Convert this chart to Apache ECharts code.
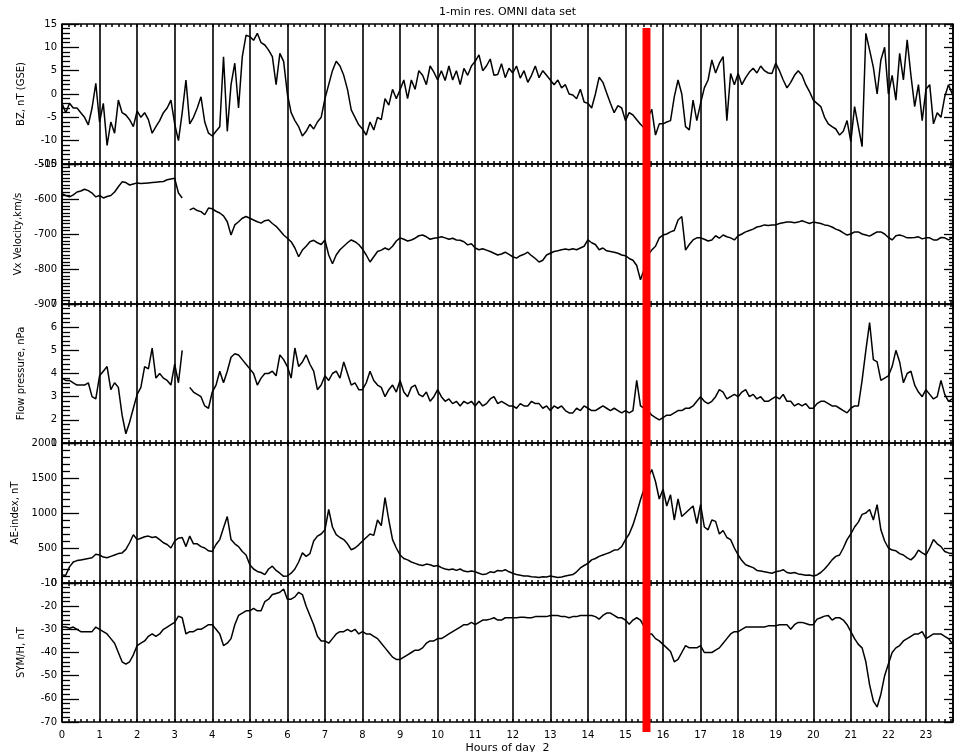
<!DOCTYPE html>
<html><head><meta charset="utf-8">
<script src="https://cdn.jsdelivr.net/npm/echarts@6/dist/echarts.min.js"></script>
<style>html,body{margin:0;padding:0;background:#fff}#c{width:957px;height:752px}</style>
</head><body><div id="c"></div>
<script>
// ---------------- DATA ----------------
const TITLE = '1-min res. OMNI data set';
const X_NAME = 'Hours of day  2';
const STEP_HOURS = 0.1;          // sampling step of the arrays below (hours)
const X_MAX = 23.72;
const RED_BAR_HOUR = 15.56;
const xTickInterval = 1;

const panelNames = ['BZ, nT (GSE)', 'Vx Velocity,km/s', 'Flow pressure, nPa', 'AE-index, nT', 'SYM/H, nT'];
const yMins = [-15, -900, 1, 0, -70];
const yMaxs = [15, -500, 7, 2000, -10];
const yIntervals = [5, 100, 1, 500, 10];
const yMinorSplits = [5, 10, 5, 5, 5];

const bz = [
 -2, -4, -2, -3, -3, -4, -5, -6.6, -3, 2.3,
 -6, -2, -11, -6, -8.4, -1.3, -4, -4.5, -5.5, -7,
 -3.6, -5, -4, -5.5, -8.4, -7, -5.7, -4, -3, -1.3,
 -6.4, -10, -4, 3, -6.4, -5, -3, -0.6, -6, -8.4,
 -9, -8, -7, 8, -8, 2, 6.6, -3, 8, 12.6,
 12.3, 11.5, 13, 11, 10.5, 9.4, 8, 2, 8.7, 7,
 0, -4, -5.7, -7, -9, -8, -6.5, -7.5, -6, -5,
 -1, 2, 5, 7, 6, 4, 1, -3.4, -5, -6.6,
 -7.5, -8.8, -6, -7.7, -5, -5.5, -1, -2.4, 1, -1,
 0.9, 3, -1, 3, 1, 5, 4, 2, 6, 4.7,
 3, 5, 2.9, 6, 3, 5, 2, 5.5, 4, 6,
 7, 8.4, 5, 6, 7.5, 4, 4.2, 6.5, 3.5, 5.5,
 4.5, 6, 3.4, 5, 2.5, 4, 6, 3.5, 5, 4,
 3, 2, 3, 1.3, 2, 0, -0.2, -1, 1, -1.7,
 -2, -3, 0, 3.6, 2.5, 0.2, -2, -4, -2.5, -3,
 -5.7, -4, -4.5, -5.5, -6.5, -7.3, -5, -3.3, -8.8, -6.4,
 -6.4, -6, -5.7, -0.6, 3, 0, -7, -7.7, -1.3, -5.7,
 -2, 1.3, 3, 7.3, 4.5, 6.6, 8, -5.7, 4.4, 2,
 4.4, 2, 3.5, 4.7, 5.5, 4.5, 6, 5, 4.5, 4.4,
 6.6, 5, 3, 1.3, 2.5, 4, 5, 4, 2, 0.5,
 -1.3, -2, -2.7, -5, -6.4, -7, -7.5, -8.8, -8, -5.7,
 -10.2, -2.7, -7, -11.3, 13, 9.4, 5.7, 0, 7.3, 10,
 0, 4, -1.3, 8.7, 3, 11.6, 4, -2.7, 2, -5.7,
 1, 2, -6.4, -4, -5, -0.6, 2, 0
];

const vx = [
 -585, -590, -594, -588, -580, -577, -572, -576, -583, -594,
 -590, -597, -593, -590, -580, -565, -551, -553, -560, -557,
 -554, -556, -555, -554, -553, -552, -551, -550, -545, -543,
 -541, -583, -597, null, -631, -626, -633, -636, -645, -626,
 -628, -635, -640, -648, -665, -703, -674, -665, -655, -650,
 -655, -660, -665, -669, -662, -660, -670, -678, -690, -703,
 -712, -722, -740, -765, -746, -735, -722, -718, -725, -730,
 -717, -760, -785, -760, -745, -735, -725, -717, -722, -730,
 -743, -760, -780, -765, -750, -746, -740, -745, -735, -720,
 -711, -715, -720, -717, -712, -705, -703, -708, -715, -712,
 -711, -708, -711, -715, -712, -717, -718, -722, -731, -728,
 -740, -745, -742, -746, -750, -755, -760, -757, -752, -758,
 -765, -769, -762, -758, -752, -762, -770, -780, -775, -760,
 -755, -750, -748, -745, -743, -745, -742, -745, -740, -735,
 -717, -725, -730, -745, -740, -748, -750, -752, -755, -760,
 -762, -770, -775, -790, -831, -800, -760, -746, -735, -711,
 -703, -700, -694, -690, -660, -650, -746, -730, -717, -711,
 -711, -715, -720, -717, -705, -712, -703, -708, -711, -717,
 -705, -700, -694, -690, -686, -680, -678, -674, -676, -674,
 -674, -670, -668, -666, -666, -668, -666, -662, -666, -670,
 -666, -668, -670, -674, -676, -680, -686, -690, -697, -703,
 -700, -694, -694, -700, -703, -706, -700, -694, -694, -700,
 -710, -717, -705, -703, -706, -711, -711, -710, -708, -714,
 -711, -711, -717, -717, -710, -711, -717, -711
];

const pressure = [
 3.8, 3.7, 3.7, 3.6, 3.5, 3.5, 3.5, 3.6, 3.0, 2.9,
 3.9, 4.1, 4.3, 3.3, 3.6, 3.4, 2.2, 1.4, 1.9, 2.5,
 3.1, 3.4, 4.3, 4.2, 5.1, 3.8, 4.0, 3.8, 3.7, 3.5,
 4.4, 3.6, 5.0, null, 3.4, 3.2, 3.1, 3.0, 2.6, 2.5,
 3.2, 3.5, 4.1, 3.6, 4.1, 4.7, 4.85, 4.8, 4.6, 4.4,
 4.2, 4.0, 3.5, 3.8, 4.0, 4.0, 4.1, 3.9, 4.8, 4.6,
 4.3, 3.8, 5.1, 4.3, 4.5, 4.8, 4.4, 4.1, 3.3, 3.5,
 3.9, 3.7, 4.0, 4.1, 3.8, 4.5, 4.0, 3.5, 3.6, 3.3,
 3.3, 3.6, 4.1, 3.7, 3.5, 3.4, 3.0, 3.3, 3.5, 3.2,
 3.7, 3.2, 3.0, 3.4, 3.5, 3.1, 3.0, 3.2, 2.8, 3.0,
 3.3, 3.0, 2.8, 2.9, 2.7, 2.8, 2.6, 2.8, 2.7, 2.8,
 2.6, 2.8, 2.6, 2.7, 2.9, 3.0, 2.7, 2.8, 2.7, 2.6,
 2.6, 2.5, 2.7, 2.6, 2.6, 2.8, 2.7, 2.7, 2.5, 2.6,
 2.4, 2.6, 2.5, 2.6, 2.4, 2.3, 2.3, 2.5, 2.4, 2.6,
 2.5, 2.4, 2.4, 2.5, 2.6, 2.5, 2.4, 2.5, 2.4, 2.3,
 2.4, 2.3, 2.4, 3.7, 2.6, 2.5, 2.4, 2.2, 2.1, 2.0,
 2.1, 2.2, 2.2, 2.3, 2.4, 2.4, 2.5, 2.5, 2.6, 2.8,
 3.0, 2.8, 2.7, 2.8, 3.0, 3.3, 3.2, 2.9, 3.0, 3.1,
 3.0, 3.2, 3.3, 3.0, 3.1, 2.9, 3.0, 2.8, 2.8, 2.9,
 3.0, 2.9, 3.1, 2.8, 2.8, 2.6, 2.7, 2.6, 2.7, 2.5,
 2.5, 2.7, 2.8, 2.8, 2.7, 2.6, 2.6, 2.5, 2.4, 2.3,
 2.5, 2.6, 2.6, 3.7, 5.0, 6.2, 4.6, 4.5, 3.7, 3.8,
 3.9, 4.3, 5.0, 4.5, 3.6, 4.0, 4.1, 3.5, 3.2, 3.0,
 3.3, 3.1, 2.9, 3.0, 3.7, 3.1, 2.8, 2.9
];

const ae = [
 115, 110, 230, 300, 320, 330, 340, 350, 360, 410,
 400, 370, 360, 380, 400, 420, 430, 480, 575, 690,
 620, 640, 660, 670, 650, 660, 620, 575, 550, 500,
 600, 640, 650, 520, 670, 560, 560, 520, 500, 460,
 450, 550, 620, 790, 950, 620, 560, 520, 450, 400,
 260, 200, 165, 150, 120, 200, 240, 180, 140, 95,
 100, 140, 200, 300, 430, 380, 420, 600, 670, 700,
 760, 1050, 800, 690, 650, 620, 560, 475, 500, 545,
 600, 650, 700, 680, 900, 820, 1220, 900, 620, 500,
 400, 350, 330, 300, 280, 260, 250, 270, 260, 240,
 250, 220, 200, 190, 200, 180, 200, 170, 160, 170,
 160, 140, 120, 130, 160, 150, 180, 170, 190, 160,
 140, 120, 110, 100, 100, 90, 85, 80, 90, 85,
 100, 90, 80, 85, 100, 110, 120, 160, 215, 250,
 280, 330, 350, 380, 400, 420, 440, 470, 475, 520,
 620, 700, 830, 1000, 1190, 1350, 1500, 1620, 1450, 1200,
 1340, 1100, 1260, 900, 1200, 950, 1000, 1050, 1100, 850,
 1120, 800, 760, 900, 880, 700, 750, 650, 620, 500,
 400, 320, 260, 240, 220, 180, 170, 160, 150, 140,
 160, 170, 190, 150, 140, 150, 130, 120, 110, 115,
 100, 115, 150, 200, 260, 330, 380, 400, 500, 620,
 700, 800, 870, 980, 1000, 1050, 900, 1120, 760, 600,
 500, 470, 460, 420, 400, 360, 330, 380, 470, 430,
 400, 500, 620, 560, 520, 450, 430, 420
];

const symh = [
 -29, -29, -29.5, -29, -30, -31, -31, -31, -31, -29,
 -30, -31, -32, -34, -36, -40, -44, -45, -44, -41,
 -37, -36, -35, -33, -32, -33, -32, -30, -29, -28,
 -27, -24.3, -25, -32, -31, -31, -30, -30, -29, -28,
 -28, -30, -32, -37, -36, -34, -28, -24, -23, -22,
 -22, -21, -22, -22, -18, -17, -15, -14.5, -14, -12.6,
 -17, -17, -16, -14, -15, -20, -24, -28, -33, -35,
 -35, -36, -34, -32, -31, -31, -30, -31, -30, -32,
 -31, -32, -32, -33, -34, -36, -38, -40, -42, -43,
 -43, -42, -41, -40, -39, -39, -38, -36, -35, -35,
 -34, -34, -33, -32, -31, -30, -29, -28, -28, -27,
 -28, -27, -26, -26, -25.6, -25, -26, -26, -25, -25,
 -25, -25, -24.8, -24.8, -25, -25, -24.5, -24.5, -24.5, -24.5,
 -24, -24, -24, -24.5, -24.5, -25, -24.5, -24.5, -24, -24,
 -24, -24, -24.5, -25.6, -24, -23, -23, -24, -25, -25,
 -26, -27.8, -26, -25, -26, -29, -32, -32, -34, -35,
 -36.5, -38, -39.6, -44, -43, -40, -37, -38, -38, -38,
 -37, -40, -40, -40, -39, -38, -36, -34, -32, -31,
 -31, -30, -29, -29, -29, -29, -29, -29, -28.5, -28.5,
 -28.5, -28, -28, -28, -30, -28, -27, -27, -27.5, -28,
 -28, -25.6, -25, -24.3, -24, -26, -25, -25, -26, -28,
 -31, -34, -36.5, -38, -44, -54, -61, -63.5, -58, -50,
 -45, -40, -38, -37, -35, -34, -33, -32, -32, -31,
 -34, -33, -32, -32, -32, -33, -34, -36
];

const seriesValues = [bz, vx, pressure, ae, symh];

// ---------------- LAYOUT / STYLE ----------------
const FONT = 'DejaVu Sans';
const gridLeft = 62, gridWidth = 891;
const gridTops = [24, 164, 304, 443, 583];
const gridHeights = [140, 140, 139, 140, 139];
const BLACK = '#000';

const grids = [], xAxes = [], yAxes = [], series = [];
seriesValues.forEach((vals, i) => {
  const last = i === seriesValues.length - 1;
  grids.push({
    left: gridLeft, width: gridWidth, top: gridTops[i], height: gridHeights[i],
    show: true, borderColor: BLACK, borderWidth: 1.5, backgroundColor: 'transparent',
    containLabel: false, outerBoundsMode: 'none'
  });
  // bottom x axis (hour split lines + 10-min minor ticks)
  xAxes.push({
    type: 'value', gridIndex: i, min: 0, max: X_MAX, interval: xTickInterval, position: 'bottom',
    axisLine: { show: false, onZero: false },
    axisTick: { show: true, inside: true, length: 3, lineStyle: { color: BLACK, width: 1.5 } },
    minorTick: { show: true, splitNumber: 6, length: 3, lineStyle: { color: BLACK, width: 1.5 } },
    splitLine: { show: true, lineStyle: { color: BLACK, width: 1.6 } },
    minorSplitLine: { show: false },
    axisLabel: { show: last, color: BLACK, fontSize: 10, fontFamily: FONT, margin: 8, showMaxLabel: false },
    name: last ? X_NAME : '', nameLocation: 'middle', nameGap: 21,
    nameTextStyle: { color: BLACK, fontSize: 11, fontFamily: FONT }
  });
  // top x axis (minor ticks only)
  xAxes.push({
    type: 'value', gridIndex: i, min: 0, max: X_MAX, interval: xTickInterval, position: 'top',
    axisLine: { show: false, onZero: false },
    axisTick: { show: true, inside: true, length: 3, lineStyle: { color: BLACK, width: 1.5 } },
    minorTick: { show: true, splitNumber: 6, length: 3, lineStyle: { color: BLACK, width: 1.5 } },
    splitLine: { show: false }, axisLabel: { show: false }
  });
  // left y axis
  yAxes.push({
    type: 'value', gridIndex: i, min: yMins[i], max: yMaxs[i], interval: yIntervals[i], position: 'left',
    axisLine: { show: false, onZero: false },
    axisTick: { show: true, inside: true, length: 17, lineStyle: { color: BLACK, width: 1.3 } },
    minorTick: { show: true, splitNumber: yMinorSplits[i], length: 8, lineStyle: { color: BLACK, width: 1.3 } },
    splitLine: { show: false },
    axisLabel: { color: BLACK, fontSize: 10, fontFamily: FONT, margin: 5, showMinLabel: true, showMaxLabel: true,
                 formatter: v => String(v) },
    name: panelNames[i], nameLocation: 'middle', nameRotate: 90, nameGap: 36,
    nameTextStyle: { color: BLACK, fontSize: 10, fontFamily: FONT }
  });
  // right y axis (ticks only)
  yAxes.push({
    type: 'value', gridIndex: i, min: yMins[i], max: yMaxs[i], interval: yIntervals[i], position: 'right',
    axisLine: { show: false, onZero: false },
    axisTick: { show: true, inside: true, length: 9, lineStyle: { color: BLACK, width: 1.3 } },
    minorTick: { show: true, splitNumber: yMinorSplits[i], length: 4, lineStyle: { color: BLACK, width: 1.3 } },
    splitLine: { show: false }, axisLabel: { show: false }
  });
  series.push({
    type: 'line', xAxisIndex: 2 * i, yAxisIndex: 2 * i,
    data: vals.map((v, k) => [+(k * STEP_HOURS).toFixed(2), v]),
    showSymbol: false, symbol: 'none', connectNulls: false,
    lineStyle: { color: BLACK, width: 1.5 }, z: 3
  });
});

const chart = echarts.init(document.getElementById('c'), null, { renderer: 'canvas' });
chart.setOption({
  animation: false,
  backgroundColor: '#fff',
  title: {
    text: TITLE, left: gridLeft + gridWidth / 2, top: 7, textAlign: 'center', padding: 0,
    textStyle: { color: BLACK, fontSize: 11, fontWeight: 'normal', fontFamily: FONT }
  },
  grid: grids, xAxis: xAxes, yAxis: yAxes, series: series
});

// red marker bar, positioned through the axis scales
const barX = chart.convertToPixel({ xAxisIndex: 0 }, RED_BAR_HOUR);
const barTop = chart.convertToPixel({ yAxisIndex: 0 }, yMaxs[0]) + 4;
const barBottom = chart.convertToPixel({ yAxisIndex: 8 }, yMins[4]) + 10;
chart.setOption({
  graphic: [{
    type: 'rect', z: 100,
    shape: { x: barX - 4, y: barTop, width: 8, height: barBottom - barTop },
    style: { fill: '#ff0000' }
  }]
});
</script>
</body></html>
